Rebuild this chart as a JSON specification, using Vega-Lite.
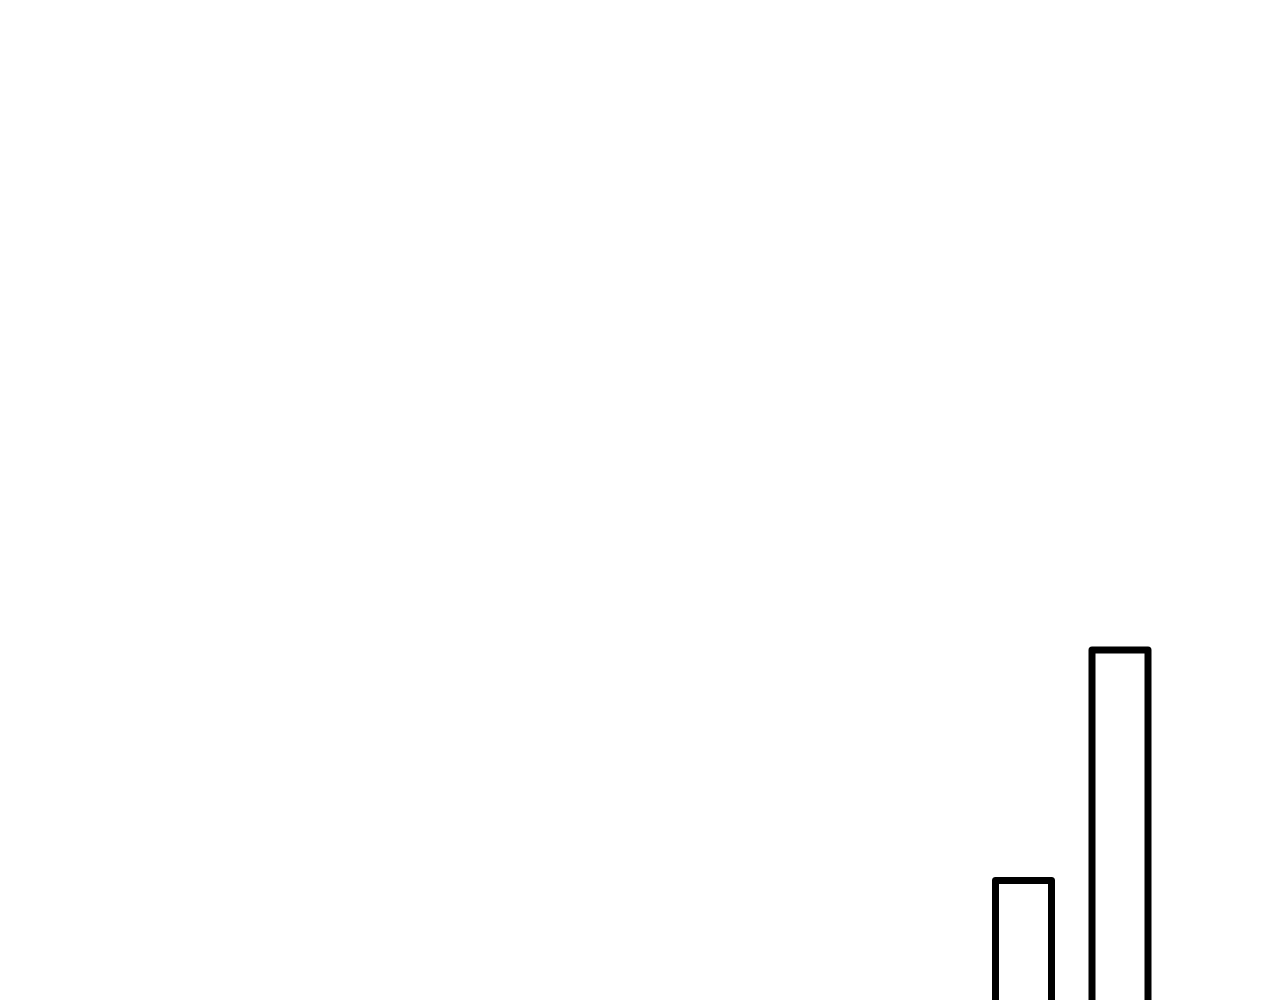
{
  "$schema": "https://vega.github.io/schema/vega-lite/v6.json",
  "width": 1280,
  "height": 1000,
  "autosize": {"type": "fit", "contains": "padding"},
  "padding": 0,
  "background": "white",
  "config": {"view": {"stroke": null}},
  "data": {"values": [
    {"category": "A", "value": 219.5},
    {"category": "B", "value": 450}
  ]},
  "mark": {"type": "bar", "width": 56, "fill": "white", "stroke": "black", "strokeWidth": 7, "strokeJoin": "round", "clip": true},
  "encoding": {
    "x": {"field": "category", "type": "nominal", "axis": null,
          "scale": {"domain": ["A", "B"], "range": [975.25, 1168.25], "paddingInner": 0, "paddingOuter": 0}},
    "y": {"field": "value", "type": "quantitative", "axis": null,
          "scale": {"domain": [100, 1100], "zero": false, "nice": false}}
  }
}
